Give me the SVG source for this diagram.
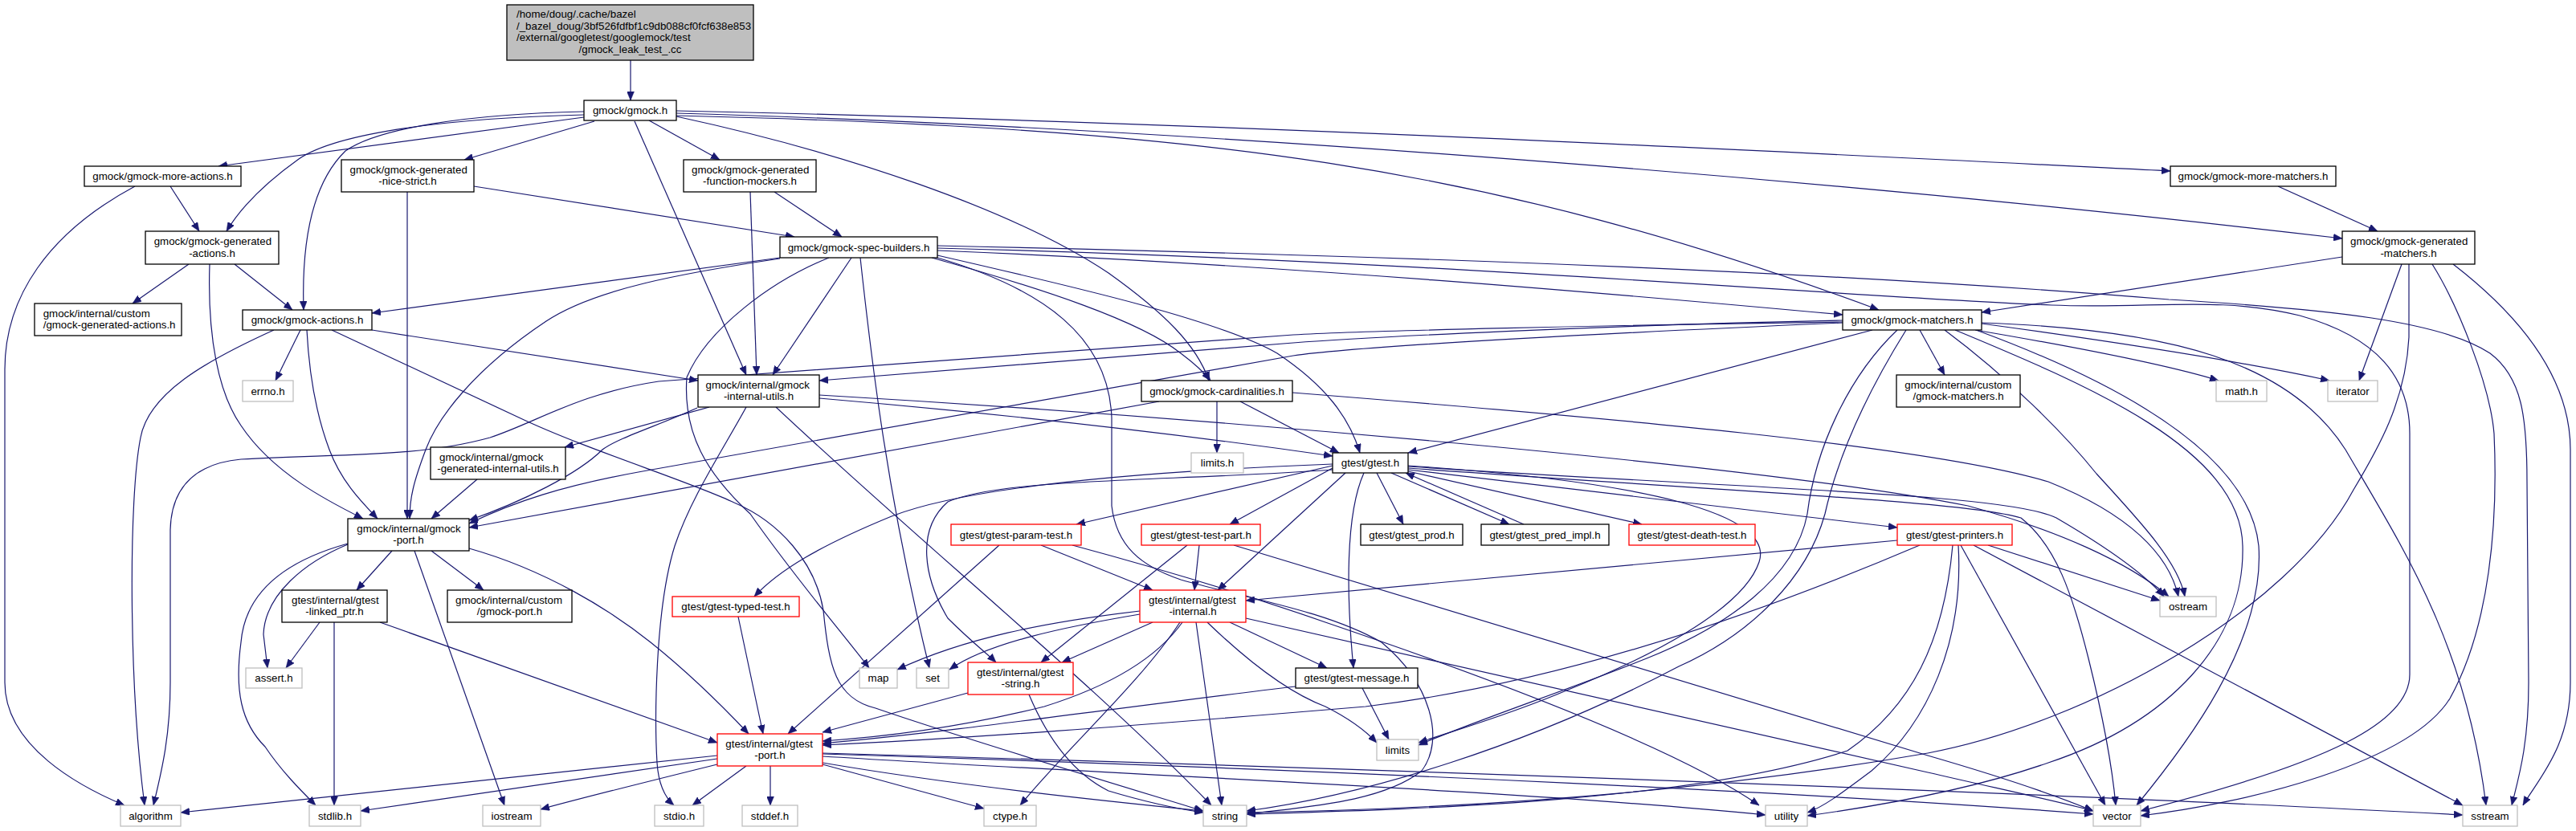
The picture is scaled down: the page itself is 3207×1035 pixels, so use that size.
<svg xmlns="http://www.w3.org/2000/svg" width="3207" height="1035" viewBox="0 0 3207 1035">
<defs>
<marker id="a" viewBox="0 0 11 9" markerWidth="11" markerHeight="9" refX="11" refY="4.5" orient="auto" markerUnits="userSpaceOnUse">
<path d="M0,0 L11,4.5 L0,9 z" fill="#191970" stroke="#191970" stroke-width="0.5"/>
</marker>
</defs>
<style>
rect{fill:#fff;stroke:#000;stroke-width:1.3}
.g rect{stroke:#bfbfbf}
.r rect{stroke:#ff0000}
.root rect{fill:#bfbfbf}
text{font-family:"Liberation Sans",Arial,Helvetica,sans-serif;font-size:13.3px;fill:#000}
.c{text-anchor:middle}
#edges path{fill:none;stroke:#191970;stroke-width:1.2;marker-end:url(#a)}
</style>
<rect x="0" y="0" width="3207" height="1035" style="fill:#fff;stroke:none"/>
<g id="edges">
<path d="M785,75 L785,125"/>
<path d="M727,146 L272,207"/>
<path d="M727,143 C560,147 420,165 372,198 C330,228 300,258 282,288"/>
<path d="M727,139 C580,142 470,160 430,188 C392,225 375,290 378,386"/>
<path d="M740,151 L578,199"/>
<path d="M790,151 L929,467"/>
<path d="M808,150 L896,199"/>
<path d="M842,145 C1050,190 1260,260 1380,340 C1450,390 1490,430 1505,474"/>
<path d="M842,138 C1500,152 2200,188 2702,213"/>
<path d="M842,141 C1500,160 2300,225 2916,297"/>
<path d="M842,144 C1500,160 1850,205 2339,386"/>
<path d="M168,232 C60,290 6,370 6,460 L6,850 C6,930 100,980 155,1003"/>
<path d="M212,232 L248,288"/>
<path d="M235,329 L165,378"/>
<path d="M292,329 L364,386"/>
<path d="M261,329 C258,420 272,490 300,530 C340,590 410,625 452,646"/>
<path d="M374,411 L343,474"/>
<path d="M341,411 C255,450 185,490 175,545 C160,620 160,850 180,1003"/>
<path d="M382,411 C385,470 395,520 410,560 C425,600 450,625 470,646"/>
<path d="M463,411 L869,474"/>
<path d="M413,411 L646,520 C730,560 860,600 914,626 C970,650 1015,700 1025,760 C1032,830 1040,870 1090,882 C1200,920 1400,980 1498,1010"/>
<path d="M2294,401 C2000,405 1700,412 1610,417 L820,475 C720,490 670,525 610,545 C520,570 420,565 300,572 C235,578 213,615 212,660 L212,850 C212,920 200,965 191,1003"/>
<path d="M2294,399 C2000,405 1700,420 1610,427 L1020,474"/>
<path d="M2294,402 C2000,415 1700,430 1610,443 L800,587 C700,605 640,625 584,652"/>
<path d="M2331,411 L1753,564"/>
<path d="M2390,411 L2421,467"/>
<path d="M2459,411 C2600,435 2700,455 2762,474"/>
<path d="M2467,403 C2650,428 2800,452 2900,474"/>
<path d="M2362,411 C2300,470 2260,560 2250,640 C2235,720 2150,780 2050,820 C1950,860 1830,900 1766,928"/>
<path d="M2373,411 C2330,480 2290,560 2272,640 C2250,720 2180,790 2090,830 C1900,930 1700,990 1552,1010"/>
<path d="M2421,411 C2500,470 2570,540 2610,590 C2665,650 2712,700 2720,743"/>
<path d="M2434,411 C2600,480 2790,560 2792,680 C2795,800 2700,900 2550,950 C2450,985 2330,1005 2250,1016"/>
<path d="M2460,411 C2620,470 2800,560 2812,680 C2820,800 2720,930 2660,1003"/>
<path d="M2467,402 C2700,410 2850,450 2920,560 C2990,680 3070,800 3095,1003"/>
<path d="M1167,312 C1600,330 2000,365 2294,392"/>
<path d="M1167,306 C1800,320 2300,340 2700,373 C2900,385 3040,400 3100,440 C3140,470 3146,520 3146,600 L3148,850 C3148,930 3135,970 3127,1003"/>
<path d="M1167,309 C1800,325 2300,370 2554,380 C2680,385 2760,368 2863,393 C2960,420 3000,470 3000,540 L3000,840 C3000,900 2900,950 2665,1010"/>
<path d="M1032,321 C960,350 880,410 855,470 C850,540 880,590 934,640 C990,720 1050,790 1082,832"/>
<path d="M1060,321 L962,467"/>
<path d="M1071,321 C1085,450 1105,620 1157,832"/>
<path d="M1167,321 C1300,360 1380,420 1384,520 L1384,630 C1390,680 1420,705 1470,722 C1550,745 1650,760 1720,800 C1780,850 1800,920 1770,960 C1720,1000 1620,1005 1552,1014"/>
<path d="M1160,321 C1300,360 1420,400 1470,440 C1490,455 1500,465 1507,474"/>
<path d="M1167,318 C1350,360 1520,400 1590,440 C1650,480 1680,520 1693,564"/>
<path d="M971,321 L463,390"/>
<path d="M971,322 C850,340 740,360 680,400 C590,460 545,520 530,560 C515,600 510,620 510,646"/>
<path d="M590,232 L989,295"/>
<path d="M507,239 L507,646"/>
<path d="M964,239 L1048,295"/>
<path d="M934,239 L942,467"/>
<path d="M2916,320 L2467,389"/>
<path d="M2990,329 L2937,474"/>
<path d="M3028,329 C3060,380 3100,480 3105,540 C3110,650 3100,780 3050,870 C3000,950 2800,1000 2665,1016"/>
<path d="M2999,329 L2999,420 C2995,500 2960,560 2930,610 C2850,760 2600,900 2400,938 C2100,990 1800,1008 1552,1012"/>
<path d="M3054,329 C3120,380 3200,460 3200,560 L3200,850 C3200,930 3160,970 3141,1003"/>
<path d="M2836,232 L2960,288"/>
<path d="M1515,500 L1515,564"/>
<path d="M1443,500 L584,657"/>
<path d="M1544,500 L1667,564"/>
<path d="M1609,489 C2000,520 2400,555 2550,600 C2650,640 2700,690 2712,743"/>
<path d="M883,507 L703,557"/>
<path d="M868,508 C820,530 770,545 750,560 C720,590 650,625 584,648"/>
<path d="M929,507 C900,560 860,620 840,680 C815,760 815,900 818,950 C820,980 830,995 839,1003"/>
<path d="M966,507 C1150,680 1360,850 1508,1003"/>
<path d="M1020,492 C1500,520 2200,580 2450,630 C2560,660 2650,700 2700,743"/>
<path d="M1020,496 C1300,520 1500,545 1659,568"/>
<path d="M594,597 L537,646"/>
<path d="M488,686 L444,735"/>
<path d="M537,686 L602,735"/>
<path d="M433,678 C380,700 330,740 328,790 L333,832"/>
<path d="M433,677 C350,700 305,740 300,800 C292,860 300,900 330,930 C350,960 375,985 393,1003"/>
<path d="M516,686 L628,1003"/>
<path d="M584,683 C680,710 760,760 810,800 C860,840 900,880 932,914"/>
<path d="M398,775 L356,832"/>
<path d="M416,775 L416,1003"/>
<path d="M473,775 L893,925"/>
<path d="M919,768 L950,914"/>
<path d="M1296,679 L1435,735"/>
<path d="M1244,679 L981,914"/>
<path d="M1335,679 C1450,710 1550,740 1650,775 C1900,860 2100,940 2190,1003"/>
<path d="M1478,679 L1296,825"/>
<path d="M1493,679 L1487,735"/>
<path d="M1536,679 L2400,941 C2500,970 2570,995 2606,1010"/>
<path d="M1675,589 L1516,735"/>
<path d="M1659,583 L1531,653"/>
<path d="M1659,580 L1340,653"/>
<path d="M1659,578 C1400,588 1200,608 1110,643 C1020,680 970,710 939,743"/>
<path d="M1659,585 C1450,600 1250,595 1180,625 C1140,660 1150,720 1180,770 C1210,800 1230,815 1240,825"/>
<path d="M1714,589 L1747,653"/>
<path d="M1732,589 L1879,653"/>
<path d="M1897,653 L1750,589"/>
<path d="M1753,587 L2044,653"/>
<path d="M1753,585 L2362,657"/>
<path d="M1698,589 C1675,640 1676,740 1685,832"/>
<path d="M1753,580 C2050,600 2210,640 2190,700 C2170,760 2050,820 1950,860 C1880,890 1810,910 1766,925"/>
<path d="M1753,581 C2200,610 2500,615 2560,645 C2620,680 2670,715 2694,743"/>
<path d="M1753,583 C2200,615 2450,625 2516,645 C2560,680 2580,740 2600,820 C2620,900 2630,960 2634,1003"/>
<path d="M2475,679 L2689,748"/>
<path d="M2457,679 L3066,1003"/>
<path d="M2441,679 L2621,1003"/>
<path d="M2431,679 C2420,800 2380,880 2300,935 C2100,1000 1750,1008 1552,1014"/>
<path d="M2438,679 C2445,800 2400,900 2330,960 C2290,990 2270,1005 2250,1012"/>
<path d="M2390,679 C2200,760 1950,850 1700,880 C1400,905 1200,920 1024,928"/>
<path d="M2362,673 L1551,748"/>
<path d="M1419,761 C1300,775 1200,795 1117,834"/>
<path d="M1419,765 C1330,780 1230,800 1182,834"/>
<path d="M1435,775 L1322,825"/>
<path d="M1472,775 C1440,820 1380,855 1300,880 C1200,905 1100,918 1024,923"/>
<path d="M1469,775 C1420,850 1330,930 1270,1003"/>
<path d="M1489,775 L1521,1003"/>
<path d="M1531,775 L1652,832"/>
<path d="M1503,775 C1560,830 1610,865 1650,880 C1680,895 1700,910 1714,925"/>
<path d="M1551,770 L2400,962 C2500,985 2570,1000 2606,1010"/>
<path d="M1205,863 L1024,912"/>
<path d="M1281,865 C1300,910 1330,960 1380,985 C1430,1000 1470,1008 1498,1012"/>
<path d="M1696,857 L1729,921"/>
<path d="M1613,855 C1400,880 1200,910 1024,926"/>
<path d="M893,941 L225,1012"/>
<path d="M893,945 L449,1010"/>
<path d="M893,952 C800,975 720,995 673,1008"/>
<path d="M929,954 L862,1003"/>
<path d="M959,954 L959,1003"/>
<path d="M1024,952 L1225,1007"/>
<path d="M1024,950 C1200,980 1400,1000 1498,1010"/>
<path d="M1024,942 C1400,965 1900,985 2198,1015"/>
<path d="M1024,939 C1700,960 2300,990 2606,1014"/>
<path d="M1024,938 C1800,960 2600,990 3066,1015"/>
</g>
<g id="n0" class="root"><rect x="631" y="6" width="307" height="69"/><text x="643" y="22">/home/doug/.cache/bazel</text><text x="643" y="36.7">/_bazel_doug/3bf526fdfbf1c9db088cf0fcf638e853</text><text x="643" y="51.4">/external/googletest/googlemock/test</text><text class="c" x="784.5" y="66.1">/gmock_leak_test_.cc</text></g>
<g id="n1"><rect x="727" y="125" width="115" height="25"/><text class="c" x="784.5" y="142.1">gmock/gmock.h</text></g>
<g id="n2"><rect x="105" y="207" width="195" height="25"/><text class="c" x="202.5" y="224.1">gmock/gmock-more-actions.h</text></g>
<g id="n3"><rect x="425" y="199" width="165" height="40"/><text x="435.5" y="215.5">gmock/gmock-generated</text><text class="c" x="507.5" y="230">-nice-strict.h</text></g>
<g id="n4"><rect x="851" y="199" width="165" height="40"/><text x="861" y="215.5">gmock/gmock-generated</text><text class="c" x="933.5" y="230">-function-mockers.h</text></g>
<g id="n5"><rect x="2702" y="207" width="206" height="25"/><text class="c" x="2805" y="224.1">gmock/gmock-more-matchers.h</text></g>
<g id="n6"><rect x="181" y="288" width="166" height="41"/><text x="191.7" y="305">gmock/gmock-generated</text><text class="c" x="264" y="319.5">-actions.h</text></g>
<g id="n7"><rect x="971" y="295" width="196" height="26"/><text class="c" x="1069" y="312.6">gmock/gmock-spec-builders.h</text></g>
<g id="n8"><rect x="2916" y="288" width="165" height="41"/><text x="2926" y="305">gmock/gmock-generated</text><text class="c" x="2998.5" y="319.5">-matchers.h</text></g>
<g id="n9"><rect x="43" y="378" width="183" height="40"/><text x="53.7" y="394.5">gmock/internal/custom</text><text x="53.7" y="409">/gmock-generated-actions.h</text></g>
<g id="n10"><rect x="302" y="386" width="161" height="25"/><text class="c" x="382.5" y="403.1">gmock/gmock-actions.h</text></g>
<g id="n11"><rect x="2294" y="386" width="173" height="25"/><text class="c" x="2380.5" y="403.1">gmock/gmock-matchers.h</text></g>
<g id="n12" class="g"><rect x="302" y="474" width="63" height="26"/><text class="c" x="333.5" y="491.6">errno.h</text></g>
<g id="n13"><rect x="869" y="467" width="151" height="40"/><text x="878.5" y="483.5">gmock/internal/gmock</text><text class="c" x="944.5" y="498">-internal-utils.h</text></g>
<g id="n14"><rect x="1421" y="474" width="188" height="26"/><text class="c" x="1515" y="491.6">gmock/gmock-cardinalities.h</text></g>
<g id="n15"><rect x="2361" y="467" width="154" height="40"/><text x="2371.3" y="483.5">gmock/internal/custom</text><text class="c" x="2438" y="498">/gmock-matchers.h</text></g>
<g id="n16" class="g"><rect x="2759" y="474" width="63" height="26"/><text class="c" x="2790.5" y="491.6">math.h</text></g>
<g id="n17" class="g"><rect x="2898" y="474" width="62" height="26"/><text class="c" x="2929" y="491.6">iterator</text></g>
<g id="n18"><rect x="536" y="557" width="168" height="40"/><text x="547" y="573.5">gmock/internal/gmock</text><text class="c" x="620" y="588">-generated-internal-utils.h</text></g>
<g id="n19" class="g"><rect x="1483" y="564" width="65" height="25"/><text class="c" x="1515.5" y="581.1">limits.h</text></g>
<g id="n20"><rect x="1659" y="564" width="94" height="25"/><text class="c" x="1706" y="581.1">gtest/gtest.h</text></g>
<g id="n21"><rect x="433" y="646" width="151" height="40"/><text x="444.3" y="662.5">gmock/internal/gmock</text><text class="c" x="508.5" y="677">-port.h</text></g>
<g id="n22" class="r"><rect x="1184" y="653" width="162" height="26"/><text class="c" x="1265" y="670.6">gtest/gtest-param-test.h</text></g>
<g id="n23" class="r"><rect x="1421" y="653" width="148" height="26"/><text class="c" x="1495" y="670.6">gtest/gtest-test-part.h</text></g>
<g id="n24"><rect x="1694" y="653" width="127" height="26"/><text class="c" x="1757.5" y="670.6">gtest/gtest_prod.h</text></g>
<g id="n25"><rect x="1844" y="653" width="159" height="26"/><text class="c" x="1923.5" y="670.6">gtest/gtest_pred_impl.h</text></g>
<g id="n26" class="r"><rect x="2028" y="653" width="157" height="26"/><text class="c" x="2106.5" y="670.6">gtest/gtest-death-test.h</text></g>
<g id="n27" class="r"><rect x="2362" y="653" width="143" height="26"/><text class="c" x="2433.5" y="670.6">gtest/gtest-printers.h</text></g>
<g id="n28"><rect x="351" y="735" width="131" height="40"/><text x="363" y="751.5">gtest/internal/gtest</text><text class="c" x="416.5" y="766">-linked_ptr.h</text></g>
<g id="n29"><rect x="557" y="735" width="155" height="40"/><text x="567" y="751.5">gmock/internal/custom</text><text class="c" x="634.5" y="766">/gmock-port.h</text></g>
<g id="n30" class="r"><rect x="837" y="743" width="158" height="25"/><text class="c" x="916" y="760.1">gtest/gtest-typed-test.h</text></g>
<g id="n31" class="r"><rect x="1419" y="735" width="132" height="40"/><text x="1430" y="751.5">gtest/internal/gtest</text><text class="c" x="1485" y="766">-internal.h</text></g>
<g id="n32" class="g"><rect x="2689" y="743" width="70" height="25"/><text class="c" x="2724" y="760.1">ostream</text></g>
<g id="n33" class="g"><rect x="306" y="832" width="70" height="25"/><text class="c" x="341" y="849.1">assert.h</text></g>
<g id="n34" class="g"><rect x="1070" y="832" width="47" height="25"/><text class="c" x="1093.5" y="849.1">map</text></g>
<g id="n35" class="g"><rect x="1141" y="832" width="40" height="25"/><text class="c" x="1161" y="849.1">set</text></g>
<g id="n36" class="r"><rect x="1205" y="825" width="131" height="40"/><text x="1215.9" y="841.5">gtest/internal/gtest</text><text class="c" x="1270.5" y="856">-string.h</text></g>
<g id="n37"><rect x="1613" y="832" width="152" height="25"/><text class="c" x="1689" y="849.1">gtest/gtest-message.h</text></g>
<g id="n38" class="r"><rect x="893" y="914" width="131" height="40"/><text x="903.3" y="930.5">gtest/internal/gtest</text><text class="c" x="958.5" y="945">-port.h</text></g>
<g id="n39" class="g"><rect x="1714" y="921" width="52" height="26"/><text class="c" x="1740" y="938.6">limits</text></g>
<g id="n40" class="g"><rect x="150" y="1003" width="75" height="26"/><text class="c" x="187.5" y="1020.6">algorithm</text></g>
<g id="n41" class="g"><rect x="385" y="1003" width="64" height="26"/><text class="c" x="417" y="1020.6">stdlib.h</text></g>
<g id="n42" class="g"><rect x="601" y="1003" width="72" height="26"/><text class="c" x="637" y="1020.6">iostream</text></g>
<g id="n43" class="g"><rect x="815" y="1003" width="61" height="26"/><text class="c" x="845.5" y="1020.6">stdio.h</text></g>
<g id="n44" class="g"><rect x="924" y="1003" width="69" height="26"/><text class="c" x="958.5" y="1020.6">stddef.h</text></g>
<g id="n45" class="g"><rect x="1225" y="1003" width="65" height="26"/><text class="c" x="1257.5" y="1020.6">ctype.h</text></g>
<g id="n46" class="g"><rect x="1498" y="1003" width="54" height="26"/><text class="c" x="1525" y="1020.6">string</text></g>
<g id="n47" class="g"><rect x="2198" y="1003" width="52" height="26"/><text class="c" x="2224" y="1020.6">utility</text></g>
<g id="n48" class="g"><rect x="2606" y="1003" width="59" height="26"/><text class="c" x="2635.5" y="1020.6">vector</text></g>
<g id="n49" class="g"><rect x="3066" y="1003" width="68" height="26"/><text class="c" x="3100" y="1020.6">sstream</text></g>
</svg>
